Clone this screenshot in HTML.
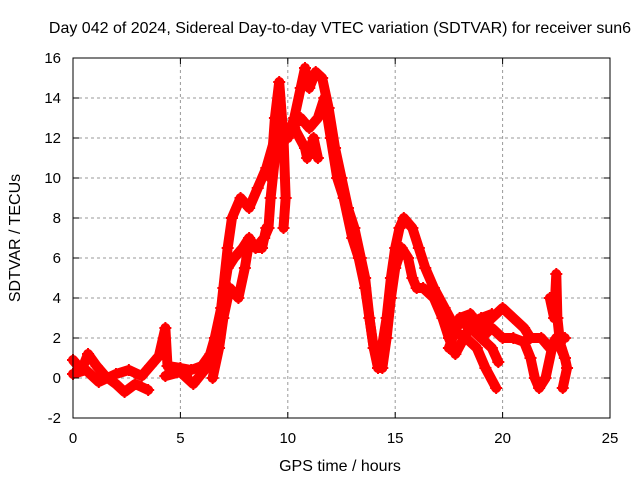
<!DOCTYPE html>
<html><head><meta charset="utf-8"><style>
body{margin:0;background:#fff;}
svg{display:block;font-family:"Liberation Sans",sans-serif;}
</style></head><body>
<svg id="chart" width="640" height="480" xmlns="http://www.w3.org/2000/svg">
<rect width="640" height="480" fill="#fff"/>
<text x="340" y="33" font-size="16" text-anchor="middle">Day 042 of 2024, Sidereal Day-to-day VTEC variation (SDTVAR) for receiver sun6</text>
<g id="grid"></g>
<g id="marks"></g>
<rect x="73" y="58" width="537" height="360" fill="none" stroke="#000" stroke-width="1"/>
<g id="ticks"></g>
<text x="340" y="471" font-size="16" text-anchor="middle">GPS time / hours</text>
<text transform="translate(20,238) rotate(-90)" font-size="16" text-anchor="middle">SDTVAR / TECUs</text>
</svg>
<script>
const xTicks=[0,5,10,15,20,25];
const yTicks=[-2,0,2,4,6,8,10,12,14,16];
const track1=[[0,0.9],[0.4,0.4],[0.7,1.2],[1.1,0.6],[1.5,0.1],[2,-0.3],[2.4,-0.7],[2.9,-0.3],[3.5,-0.6]];
const track2=[[0,0.2],[0.6,0.4],[1.2,-0.2],[2,0.2],[2.6,0.4],[3.2,0.1],[3.6,0.6],[4,1.1],[4.3,2.5],[4.4,0.6],[5,0.5],[5.5,0.4],[6,0.6],[6.4,1.2],[6.8,2.5],[7,4.5],[7.2,6.5],[7.4,8],[7.8,9],[8.2,8.5],[8.6,9.5],[9,10.5],[9.4,12],[9.8,12.5],[10.2,12.5],[10.6,13],[11,12.5],[11.4,13],[11.7,14],[12,12],[12.3,10],[12.6,9],[13,7],[13.3,6],[13.6,4.5],[13.8,3],[14,1.5],[14.2,0.5],[14.4,0.5],[14.6,2],[14.8,4],[15,5.5],[15.3,6.5],[15.6,6],[15.8,5],[16,4.5],[16.3,4.5],[16.8,4],[17.2,3],[17.5,2],[17.8,1.2],[18.2,2],[18.6,2.8],[19,3],[19.5,3.2]];
const track3=[[4.3,0.1],[5,0.3],[5.6,-0.3],[6.2,0.5],[6.6,2],[6.9,3.5],[7.2,5.5],[7.5,6],[7.9,6.5],[8.2,7],[8.5,6.5],[8.9,7],[9.1,7.5],[9.2,9],[9.4,11],[9.7,12],[10,12],[10.3,13],[10.6,14.5],[10.8,15.5],[11,14.5],[11.3,15.3],[11.6,15],[11.9,13.5],[12.2,11.5],[12.5,10],[12.8,8.5],[13.1,7.5],[13.4,6],[13.6,5],[13.8,3],[14,1.5],[14.3,1],[14.6,3],[14.8,5],[15,6.5],[15.2,7.5],[15.4,8],[15.8,7.5],[16.1,6.5],[16.4,5.5],[16.8,4.5],[17.3,3.5],[17.8,2.5],[18.1,2.8],[18.5,2.5],[19,2],[19.5,1.5],[19.8,0.8]];
const track4=[[17.5,2.5],[18.3,2],[18.8,1.5],[19.2,0.5],[19.7,-0.5]];
const track5=[[17.5,1.5],[18,3],[18.5,3.2],[19,2.5],[19.5,3],[20,3.5],[20.5,3],[21,2.5],[21.3,2],[21.8,2],[22.2,1.5],[22.5,2],[22.9,2]];
const track6=[[19,2],[19.5,2.5],[20,2],[20.5,2],[21,1.8],[21.3,1],[21.5,0],[21.7,-0.5],[22,0],[22.3,1.5],[22.6,2],[22.9,1],[23,0.5],[22.8,-0.5]];
const track7=[[22.2,4],[22.4,3],[22.5,5.2],[22.55,3],[22.7,1.5],[22.9,1]];
const track8=[[6.5,0],[6.8,1.5],[7,3],[7.3,4.5],[7.7,4],[8,5.5],[8.2,6.8],[8.5,6.5],[8.8,6.5],[9,7.5]];
const track9=[[9.2,10],[9.4,13],[9.6,14.8],[9.8,12],[9.9,9],[9.8,7.5]];
const track10=[[10.3,12.5],[10.8,11.5],[10.9,11],[11.2,12],[11.4,11]];
const tracks=[track1,track2,track3,track4,track5,track6,track7,track8,track9,track10];
const X0=73,X1=610,Y0=418,Y1=58;
const xs=t=>X0+(t-0)/(25-0)*(X1-X0);
const ys=v=>Y0-(v+2)/(16+2)*(Y0-Y1);
const NS="http://www.w3.org/2000/svg";
const grid=document.getElementById('grid'),ticks=document.getElementById('ticks'),marks=document.getElementById('marks');
function mk(tag,attrs,parent){const e=document.createElementNS(NS,tag);for(const k in attrs)e.setAttribute(k,attrs[k]);parent.appendChild(e);return e;}
xTicks.forEach(t=>{const x=xs(t);
 if(t>0&&t<25){const g=mk('line',{x1:x,x2:x,y1:Y1,y2:Y0,stroke:'#999','stroke-dasharray':'3,3'},grid);
 
 }
 mk('line',{x1:x,x2:x,y1:Y0,y2:Y0-6,stroke:'#000'},ticks);mk('line',{x1:x,x2:x,y1:Y1,y2:Y1+6,stroke:'#000'},ticks);
 const l=mk('text',{x:x,y:Y0+25,'font-size':15,'text-anchor':'middle'},ticks);l.textContent=t;
 
 });
yTicks.forEach(v=>{const y=ys(v);
 if(v>-2&&v<16){const g=mk('line',{x1:X0,x2:X1,y1:y,y2:y,stroke:'#999','stroke-dasharray':'3,3'},grid);
 
 }
 mk('line',{x1:X0,x2:X0+6,y1:y,y2:y,stroke:'#000'},ticks);mk('line',{x1:X1,x2:X1-6,y1:y,y2:y,stroke:'#000'},ticks);
 const l=mk('text',{x:X0-12,y:y+5,'font-size':15,'text-anchor':'end'},ticks);l.textContent=v;
 
 });
tracks.forEach((tr,i)=>{
 const p=mk('polyline',{points:tr.map(d=>xs(d[0])+','+ys(d[1])).join(' '),fill:'none',stroke:'#f00','stroke-width':10,'stroke-linejoin':'round','stroke-linecap':'round'},marks);
 
 
 tr.forEach(d=>{const x=xs(d[0]),y=ys(d[1]);
  const m=mk('path',{d:`M${x-6},${y}H${x+6}M${x},${y-6}V${y+6}`,stroke:'#f00','stroke-width':2},marks);
  
  });
});
</script>
</body></html>
